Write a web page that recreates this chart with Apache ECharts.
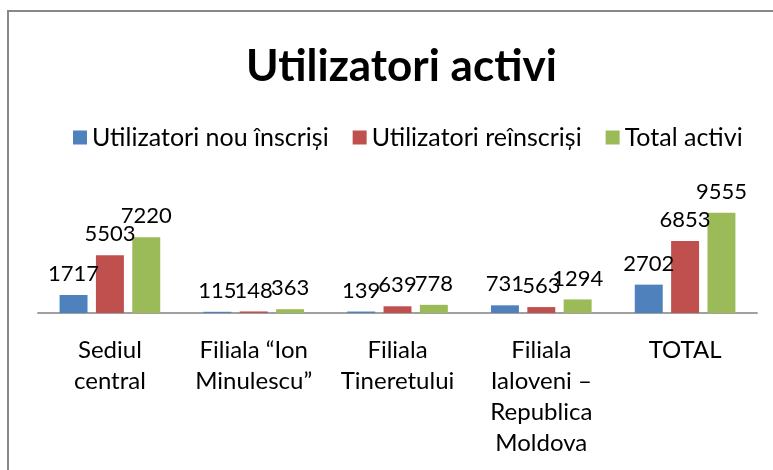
<!DOCTYPE html>
<html>
<head>
<meta charset="utf-8">
<script src="https://cdn.jsdelivr.net/npm/echarts@6/dist/echarts.min.js"></script>
<style>
  html, body { margin: 0; padding: 0; background: #fff; }
  #main { width: 773px; height: 470px; }
</style>
</head>
<body>
<div id="main"></div>
<script>
var categories = ['Sediul\ncentral', 'Filiala “Ion\nMinulescu”', 'Filiala\nTineretului', 'Filiala\nIaloveni –\nRepublica\nMoldova', 'TOTAL'];
var seriesNames = ['Utilizatori nou înscriși', 'Utilizatori reînscriși', 'Total activi'];
var nouInscrisi = [1717, 115, 139, 731, 2702];
var reinscrisi = [5503, 148, 639, 563, 6853];
var totalActivi = [7220, 363, 778, 1294, 9555];

var myChart = echarts.init(document.getElementById('main'));
var font = 'Lato';

function barSeries(name, data) {
    return {
        name: name,
        type: 'bar',
        data: data,
        barGap: '30%',
        barCategoryGap: '30%',
        label: {
            show: true,
            position: 'top',
            distance: 10,
            color: '#000',
            fontFamily: font,
            fontSize: 22
        }
    };
}

option = {
    color: ['#4f81bd', '#c0504d', '#9bbb59'],
    animation: false,
    title: {
        text: 'Utilizatori activi',
        left: 241,
        top: 40,
        textStyle: { fontFamily: font, fontSize: 44, fontWeight: 'bold', color: '#000' }
    },
    legend: {
        top: 120,
        left: 68,
        itemWidth: 14,
        itemHeight: 14,
        itemGap: 24,
        icon: 'rect',
        textStyle: { fontFamily: font, fontSize: 25, color: '#000' },
        data: seriesNames
    },
    grid: { left: 38, right: 16, top: 208, bottom: 157 },
    xAxis: {
        type: 'category',
        data: categories,
        axisTick: { show: false },
        axisLine: { lineStyle: { color: '#a0a0a0', width: 2 } },
        axisLabel: {
            interval: 0,
            margin: 22,
            color: '#000',
            fontFamily: font,
            fontSize: 24,
            lineHeight: 31
        }
    },
    yAxis: {
        type: 'value',
        min: 0,
        max: 10000,
        show: false,
        splitLine: { show: false }
    },
    graphic: [{
        type: 'rect',
        shape: { x: 8, y: 11, width: 800, height: 500 },
        style: { fill: 'none', stroke: '#888', lineWidth: 2 },
        silent: true
    }],
    series: [
        barSeries(seriesNames[0], nouInscrisi),
        barSeries(seriesNames[1], reinscrisi),
        barSeries(seriesNames[2], totalActivi)
    ]
};
myChart.setOption(option);
</script>
</body>
</html>
